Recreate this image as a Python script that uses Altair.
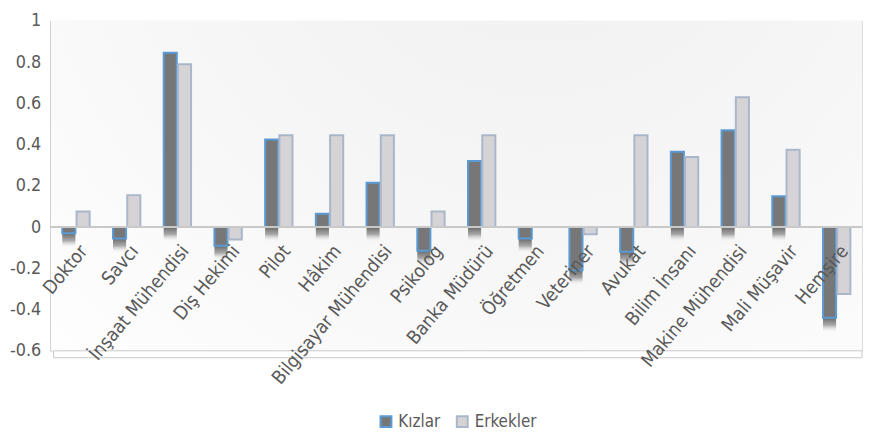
import altair as alt
import pandas as pd

categories = ["Doktor", "Savcı", "İnşaat Mühendisi", "Diş Hekimi", "Pilot", "Hâkim",
              "Bilgisayar Mühendisi", "Psikolog", "Banka Müdürü", "Öğretmen", "Veteriner",
              "Avukat", "Bilim İnsanı", "Makine Mühendisi", "Mali Müşavir", "Hemşire"]
kizlar = [-0.03, -0.055, 0.845, -0.09, 0.425, 0.065, 0.215, -0.115, 0.32, -0.055, -0.21,
          -0.12, 0.365, 0.47, 0.15, -0.44]
erkekler = [0.075, 0.155, 0.79, -0.06, 0.445, 0.445, 0.445, 0.075, 0.445, 0.0, -0.035,
            0.445, 0.34, 0.63, 0.375, -0.325]
series = ["Kızlar", "Erkekler"]
y_ticks = [-0.6, -0.4, -0.2, 0, 0.2, 0.4, 0.6, 0.8, 1]

rows = []
for c, k, e in zip(categories, kizlar, erkekler):
    rows.append({"cat": c, "series": "Kızlar", "v": k, "low": min(k, 0)})
    rows.append({"cat": c, "series": "Erkekler", "v": e, "low": min(e, 0)})
df = pd.DataFrame(rows)
cat_df = pd.DataFrame({"cat": categories})

FONT = "DejaVu Sans Condensed, sans-serif"
W, H = 819, 333

xscale = alt.Scale(paddingInner=0.46, paddingOuter=0.23)
yscale = alt.Scale(domain=[-0.6, 1], nice=False, zero=False)
X = alt.X("cat:N", sort=categories, axis=None, scale=xscale)
XO = alt.XOffset("series:N", sort=series, scale=alt.Scale(domain=series, paddingInner=0.08))

background = alt.Chart(cat_df.head(1)).mark_rect(
    color=alt.Gradient(gradient="radial", x1=0.6, y1=0.1, x2=0.6, y2=0.1, r1=0, r2=0.9,
                       stops=[alt.GradientStop(color="#efefef", offset=0),
                              alt.GradientStop(color="#f6f6f6", offset=0.5),
                              alt.GradientStop(color="#ffffff", offset=1)])
).encode(x=alt.value(0), x2=alt.value(W), y=alt.value(0), y2=alt.value(H))

floor = alt.Chart(cat_df.head(1)).mark_rect(
    fill="#ffffff", stroke="#c8c8c8", strokeWidth=1, y2Offset=7, xOffset=3
).encode(x=alt.value(0), x2=alt.value(W), y=alt.datum(-0.6), y2=alt.datum(-0.6))

bars = alt.Chart(df).mark_bar(strokeWidth=2).encode(
    x=X,
    xOffset=XO,
    y=alt.Y("v:Q", scale=yscale, title=None,
            axis=alt.Axis(values=y_ticks, grid=False, ticks=False, domainColor="#b0b0b0",
                          domainWidth=2, labelPadding=10, labelFontSize=18,
                          labelColor="#595959", labelFont=FONT,
                          labelExpr="toString(round(datum.value*10)/10)")),
    y2=alt.datum(0),
    fill=alt.Color("series:N", sort=series, title=None,
                   scale=alt.Scale(domain=series, range=["#777777", "#d5d3d6"]),
                   legend=alt.Legend(orient="none", legendX=330, legendY=396,
                                     direction="horizontal", symbolType="square",
                                     symbolSize=121, symbolStrokeWidth=2,
                                     labelFontSize=17, labelColor="#595959",
                                     labelFont=FONT, columnPadding=12, labelOffset=4)),
    stroke=alt.Stroke("series:N", sort=series, legend=None,
                      scale=alt.Scale(domain=series, range=["#5b9bd5", "#aab6c9"])),
)

shadow_df = df[df["series"] == "Kızlar"]
shadow = alt.Chart(shadow_df).mark_rect(
    y2Offset=15, yOffset=-2,
    color=alt.Gradient(gradient="linear", x1=0, y1=0, x2=0, y2=1,
                       stops=[alt.GradientStop(color="rgba(45,45,45,0.8)", offset=0),
                              alt.GradientStop(color="rgba(70,70,70,0.45)", offset=0.55),
                              alt.GradientStop(color="rgba(255,255,255,0)", offset=1)])
).encode(
    x=X,
    xOffset=XO,
    y=alt.Y("low:Q", scale=yscale),
    y2=alt.Y2("low:Q"),
)

zero = alt.Chart(cat_df).mark_rule(color="#c9c9c9", strokeWidth=2).encode(y=alt.datum(0))

labels = alt.Chart(cat_df).mark_text(
    angle=310, align="right", baseline="middle", fontSize=19, font=FONT,
    color="#595959", xOffset=8, yOffset=21
).encode(x=X, text="cat:N", y=alt.datum(0))

chart = alt.layer(background, floor, shadow, bars, zero, labels).properties(
    width=W, height=H,
    autosize=alt.AutoSizeParams(type="none"),
    padding={"left": 43, "top": 11, "right": 3, "bottom": 84},
).configure_view(stroke=None).configure(background="white")

chart.save("out.html", embed_options={"renderer": "svg", "actions": False})
